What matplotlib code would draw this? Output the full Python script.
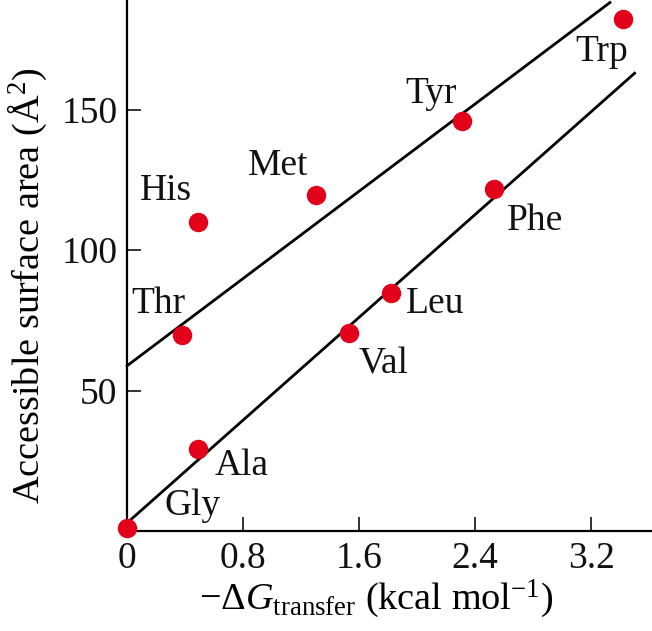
import numpy as np
import matplotlib
matplotlib.use("Agg")
import matplotlib.pyplot as plt

# valores
residues = ["Gly", "Ala", "Thr", "His", "Met", "Val", "Leu", "Tyr", "Phe", "Trp"]
dg_transfer = [0.0, 0.49, 0.38, 0.49, 1.30, 1.53, 1.82, 2.31, 2.53, 3.42]
surface_area = [1.0, 29.4, 69.9, 110.0, 119.8, 70.5, 84.8, 145.8, 121.8, 182.3]

# posicion (x, y) de cada etiqueta, en unidades de datos
label_x = [0.26, 0.60, 0.03, 0.09, 0.83, 1.60, 1.92, 1.92, 2.62, 3.09]
label_y = [5.9, 19.9, 77.8, 118.0, 126.9, 56.3, 77.6, 152.4, 107.3, 167.2]

# rectas de ajuste: (ordenada, pendiente, x final)
upper_fit = (58.9, 38.8, 3.33)
lower_fit = (3.0, 45.7, 3.50)

x_ticks = [0, 0.8, 1.6, 2.4, 3.2]
x_ticklabels = ["0", "0.8", "1.6", "2.4", "3.2"]
y_ticks = [50, 100, 150]

plt.rcParams["font.family"] = ["Liberation Serif", "DejaVu Serif"]
plt.rcParams["mathtext.fontset"] = "custom"
plt.rcParams["mathtext.rm"] = "Liberation Serif"
plt.rcParams["mathtext.it"] = "Liberation Serif:italic"
plt.rcParams["font.size"] = 27

fig = plt.figure(figsize=(6.52, 6.31), dpi=100)
ax = fig.add_axes([0.195, 0.158, 0.805, 0.842])

# lineas
for intercept, slope, x_end in (upper_fit, lower_fit):
    xs = np.array([0, x_end])
    ax.plot(xs, intercept + slope * xs, color="black", lw=2.0, clip_on=False)

# puntos
ax.plot(dg_transfer, surface_area, "o", color="#e2001a", markersize=14,
        markeredgewidth=0, clip_on=False, zorder=3)

for name, lx, ly in zip(residues, label_x, label_y):
    ax.text(lx, ly, name, ha="left", va="baseline", fontsize=27, color="#111111")

ax.set_xlim(0, 3.62)
ax.set_ylim(0, 189)
ax.set_xticks(x_ticks)
ax.set_xticklabels(x_ticklabels)
ax.set_yticks(y_ticks)

ax.spines["top"].set_visible(False)
ax.spines["right"].set_visible(False)
for s in ("left", "bottom"):
    ax.spines[s].set_linewidth(1.6)

ax.tick_params(direction="in", length=10, width=1.2, pad=7, labelsize=27,
               colors="#111111")

ax.set_xlabel(r"$-\Delta G_{\mathrm{transfer}}$ (kcal mol$^{-1}$)", fontsize=27.5)
ax.set_ylabel("Accessible surface area (Å$^2$)", fontsize=27.5)
ax.xaxis.set_label_coords(0.475, -0.088)
ax.yaxis.set_label_coords(-0.148, 0.462)

plt.savefig("out.png", dpi=100)
